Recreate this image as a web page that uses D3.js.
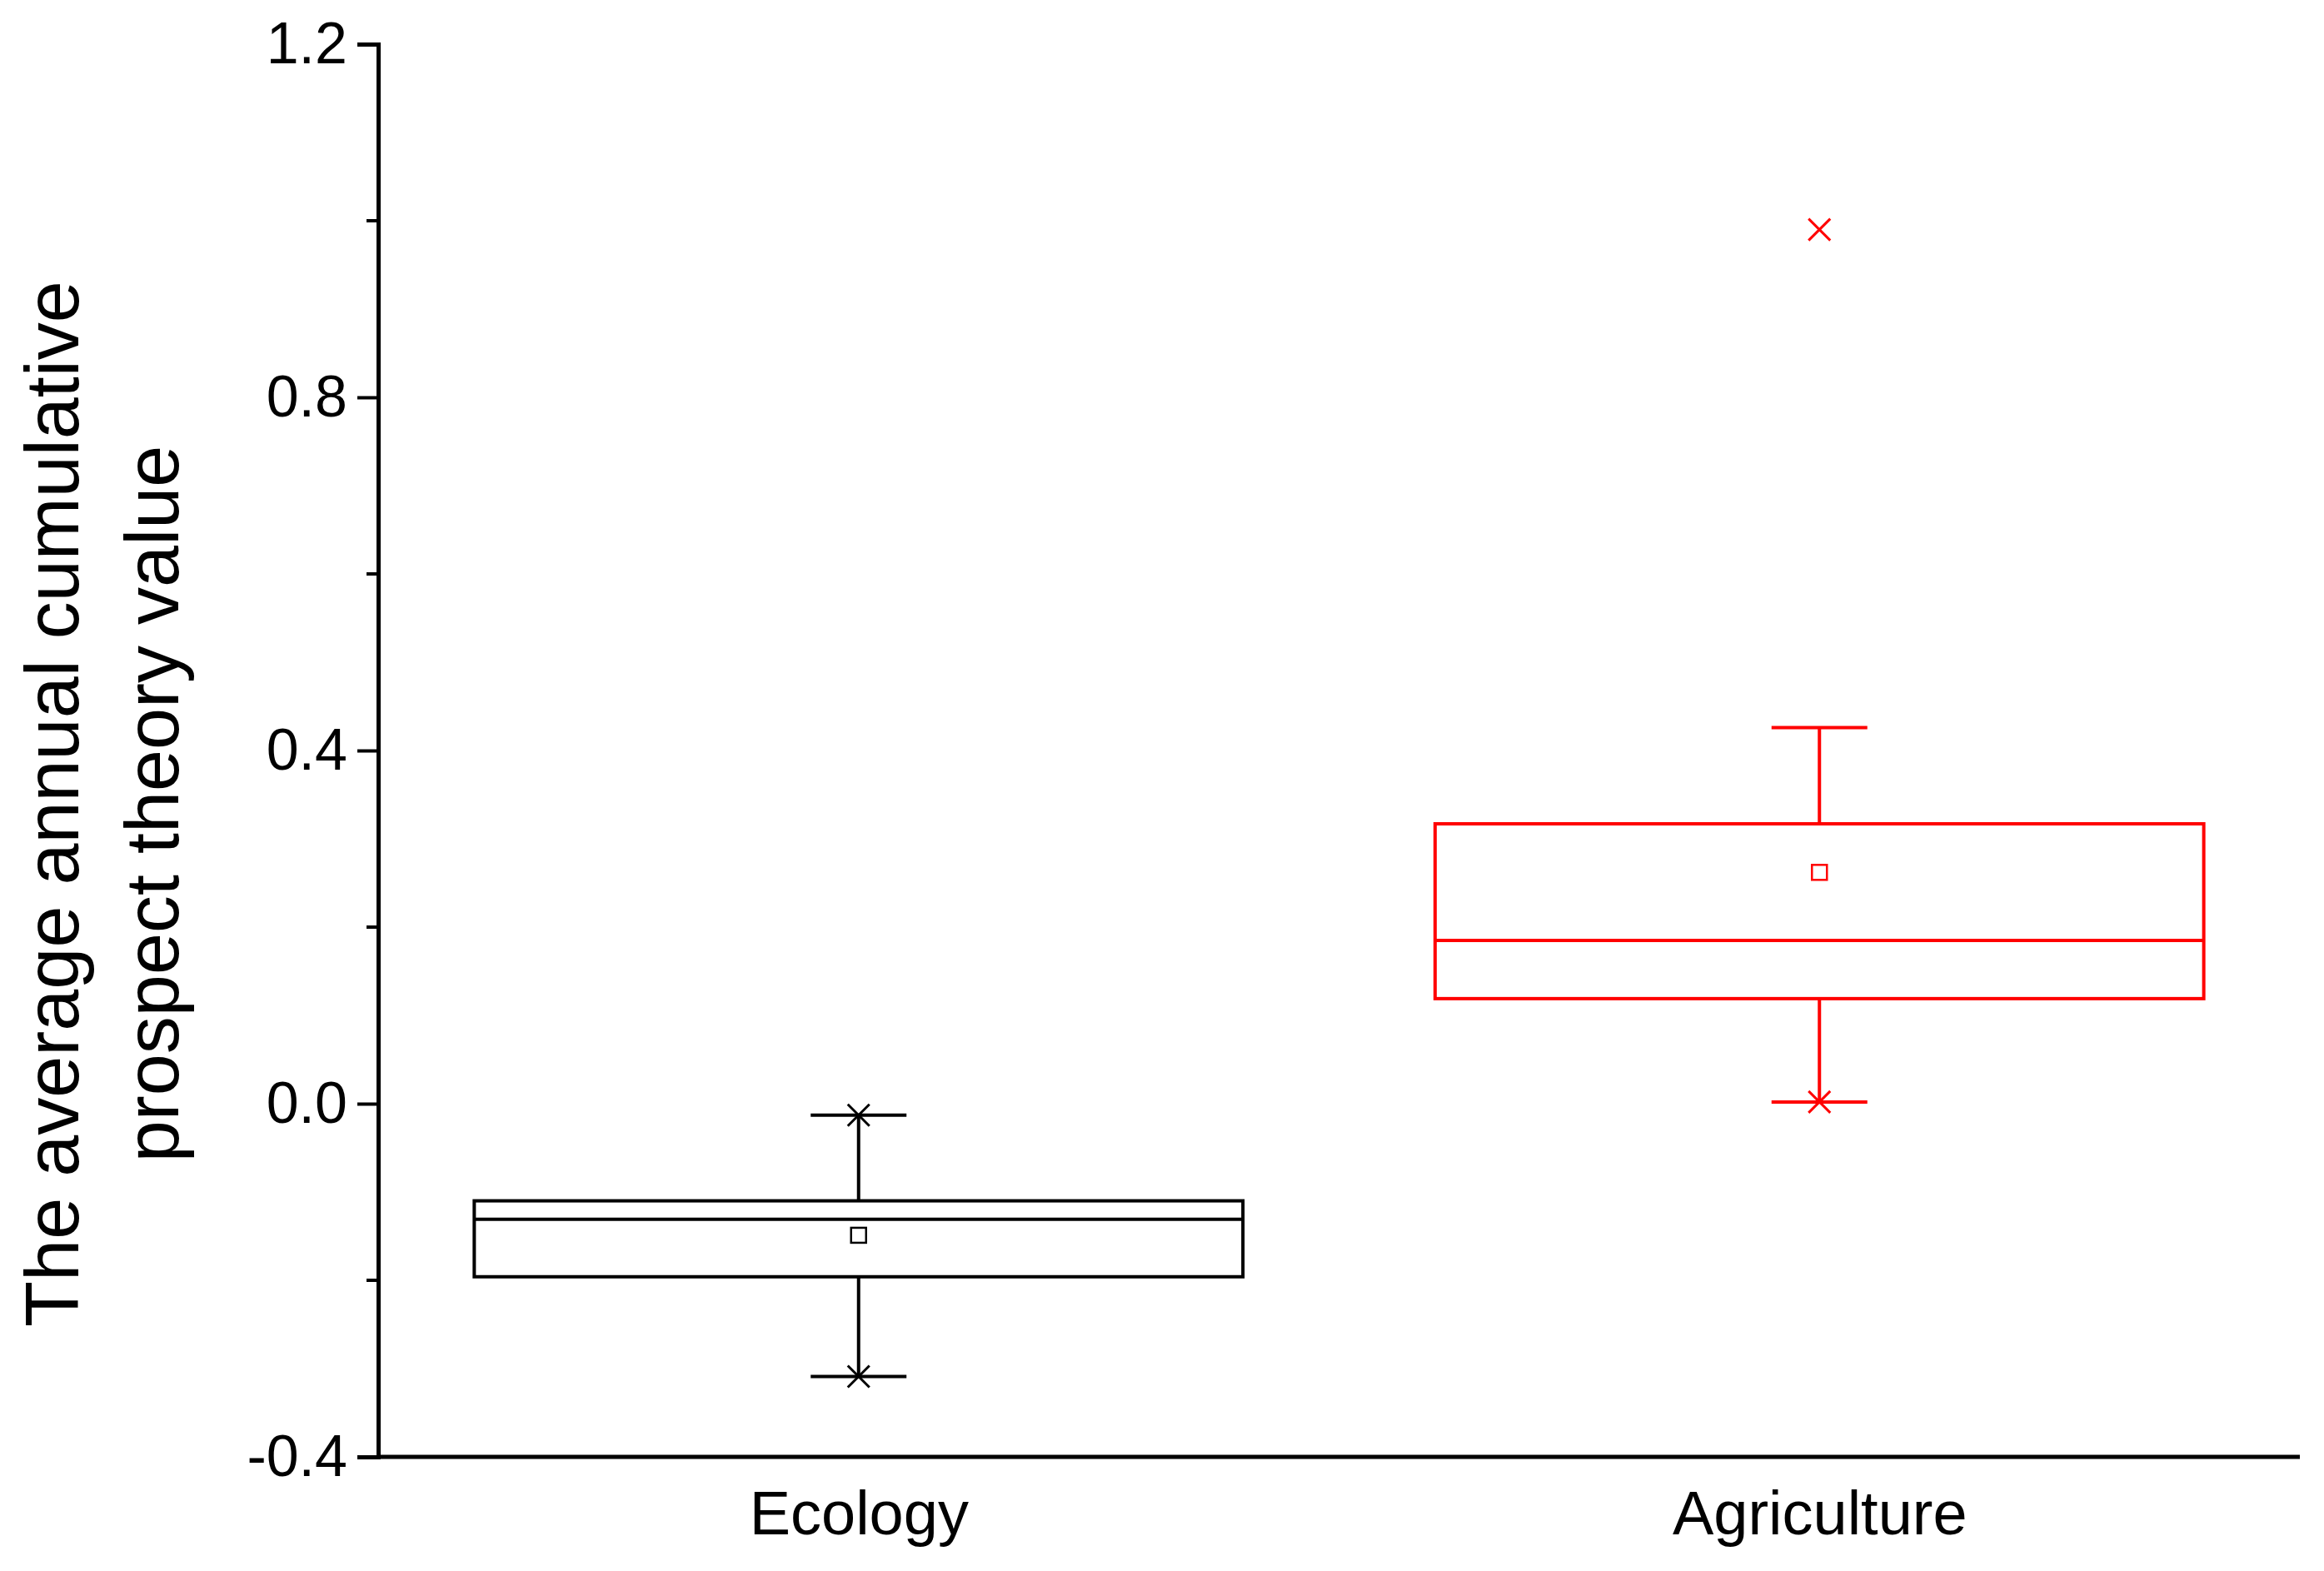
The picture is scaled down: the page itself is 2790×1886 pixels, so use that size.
<!DOCTYPE html>
<html><head><meta charset="utf-8">
<script src="https://cdn.jsdelivr.net/npm/d3@7"></script>
<style>body{margin:0;background:#fff}text{font-family:Arial,"Liberation Sans",sans-serif}</style>
</head><body>
<svg id="chart" width="2790" height="1886"></svg>
<script>
// box statistics
var categories = ['Ecology', 'Agriculture'];
var colors = ['#000000', '#ff0000'];
var q1 = [-0.196, 0.119];
var median = [-0.131, 0.185];
var q3 = [-0.110, 0.317];
var mean = [-0.149, 0.262];
var whiskerLow = [-0.309, 0.002];
var whiskerHigh = [-0.013, 0.426];
var minMarks = [-0.309, 0.002];
var maxMarks = [-0.013, 0.990];
var yTicks = [-0.4, 0.0, 0.4, 0.8, 1.2];

var margin = {left: 454, top: 53, right: 29, bottom: 137};
var W = 2790, H = 1886;
var svg = d3.select('#chart');

var x = d3.scalePoint().domain(categories).range([margin.left, W - margin.right]).padding(0.5);
var y = d3.scaleLinear().domain([-0.4, 1.2]).range([H - margin.bottom, margin.top]);
var boxW = 0.4 * (W - margin.right - margin.left);
var capW = 115;

var minor = d3.range(-0.2, 1.2, 0.4);
svg.append('g').selectAll('line').data(minor).join('line')
    .attr('x1', margin.left).attr('x2', margin.left - 14)
    .attr('y1', d => y(d)).attr('y2', d => y(d))
    .attr('stroke', '#000').attr('stroke-width', 4);

var fmt = d3.format('.1f');
var yAxis = svg.append('g').attr('transform', 'translate(' + margin.left + ',0)')
    .call(d3.axisLeft(y).tickValues(yTicks).tickFormat(d => fmt(d).replace('\u2212', '-')).tickSize(25).tickPadding(12));
yAxis.select('.domain').attr('stroke-width', 5);
yAxis.selectAll('.tick line').attr('stroke-width', 4);
yAxis.selectAll('text').attr('font-size', 70).attr('fill', '#000');

var xAxis = svg.append('g').attr('transform', 'translate(0,' + (H - margin.bottom) + ')')
    .call(d3.axisBottom(x).tickSize(0).tickPadding(40));
xAxis.select('.domain').attr('stroke-width', 5).attr('d', 'M' + margin.left + ',0H' + (W - margin.right));
xAxis.selectAll('text').attr('font-size', 74).attr('fill', '#000');

var lbl = svg.append('text').attr('transform', 'translate(62,965) rotate(-90)')
    .attr('text-anchor', 'middle').attr('font-size', 90);
lbl.append('tspan').attr('x', 0).attr('dy', '0.35em').text('The average annual cumulative');
lbl.append('tspan').attr('x', 0).attr('dy', '1.34em').text('prospect theory value');

function cross(g, cx, cy, s, c) {
    g.append('path').attr('d', 'M' + (cx - s) + ',' + (cy - s) + 'L' + (cx + s) + ',' + (cy + s) +
        'M' + (cx + s) + ',' + (cy - s) + 'L' + (cx - s) + ',' + (cy + s))
        .attr('stroke', c).attr('stroke-width', 3).attr('fill', 'none');
}

categories.forEach(function (cat, i) {
    var cx = x(cat), c = colors[i];
    var g = svg.append('g').attr('stroke', c).attr('fill', 'none').attr('stroke-width', 4);
    g.append('line').attr('x1', cx).attr('x2', cx).attr('y1', y(q3[i])).attr('y2', y(whiskerHigh[i]));
    g.append('line').attr('x1', cx).attr('x2', cx).attr('y1', y(q1[i])).attr('y2', y(whiskerLow[i]));
    [whiskerHigh[i], whiskerLow[i]].forEach(function (v) {
        g.append('line').attr('x1', cx - capW / 2).attr('x2', cx + capW / 2).attr('y1', y(v)).attr('y2', y(v));
    });
    g.append('rect').attr('x', cx - boxW / 2).attr('width', boxW)
        .attr('y', y(q3[i])).attr('height', y(q1[i]) - y(q3[i]));
    g.append('line').attr('x1', cx - boxW / 2).attr('x2', cx + boxW / 2)
        .attr('y1', y(median[i])).attr('y2', y(median[i]));
    g.append('rect').attr('x', cx - 9).attr('y', y(mean[i]) - 9).attr('width', 18).attr('height', 18)
        .attr('stroke-width', 2.5);
    cross(svg, cx, y(minMarks[i]), 13, c);
    cross(svg, cx, y(maxMarks[i]), 13, c);
});
</script>
</body></html>
